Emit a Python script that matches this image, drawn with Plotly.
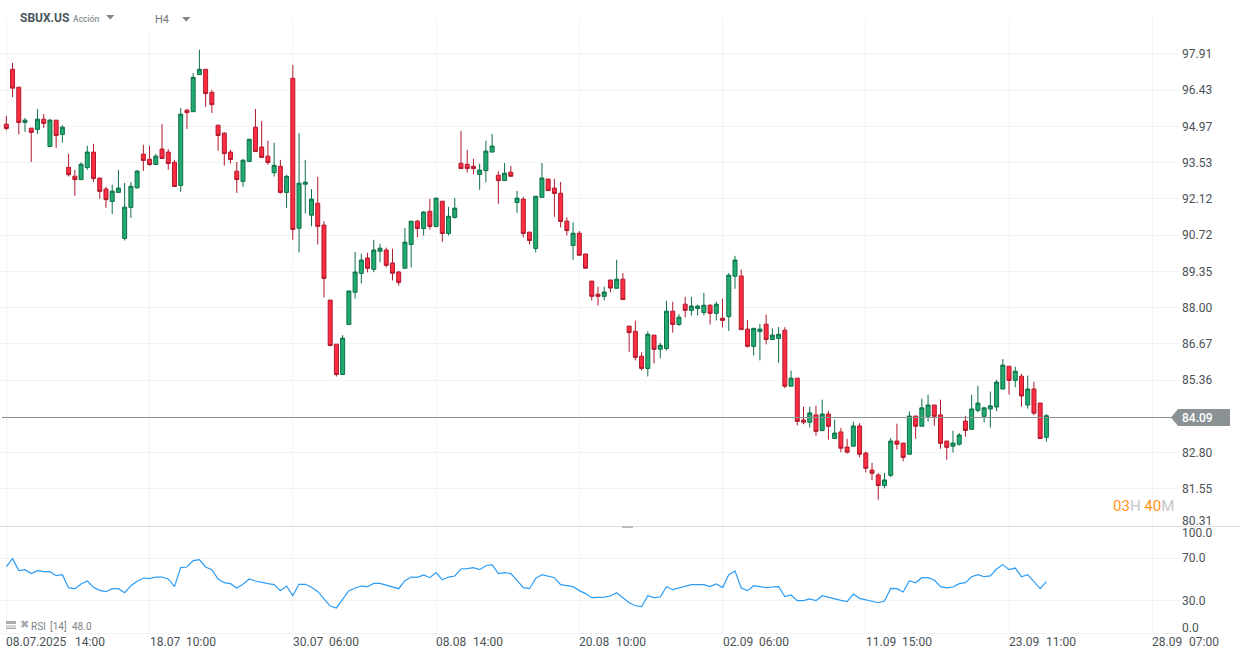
import math
import plotly.graph_objects as go

W, H = 1242, 659

opens = [95.06,97.28,96.55,95.13,94.90,94.85,95.26,94.17,95.22,94.65,
 93.35,93.00,92.87,93.34,93.95,92.93,92.50,92.02,92.37,90.60,
 91.79,92.55,93.87,93.67,93.46,94.07,93.95,93.55,92.64,95.62,
 95.56,97.06,97.28,96.34,95.02,94.70,93.95,93.20,92.80,93.58,
 94.94,94.15,93.79,93.14,93.39,92.37,96.91,90.99,92.69,91.49,
 91.95,91.11,88.28,86.66,85.56,87.38,88.57,89.28,89.86,89.43,
 90.11,90.16,89.67,89.33,89.47,90.37,91.26,90.98,91.64,91.06,
 92.03,90.79,91.40,93.51,93.47,93.39,93.07,93.22,93.95,93.04,
 92.83,93.16,91.98,92.11,90.84,90.22,92.18,92.89,92.54,92.34,
 91.26,90.33,90.80,90.01,88.99,88.50,88.42,89.03,88.72,89.06,
 87.32,87.13,86.22,85.78,86.99,86.47,86.50,87.87,87.38,88.13,
 87.90,87.97,87.82,88.09,87.79,87.61,87.67,89.17,89.18,87.21,
 86.58,87.12,87.39,86.83,86.87,87.17,85.14,85.43,83.94,83.86,
 84.12,83.57,84.15,83.29,83.52,82.99,83.02,83.73,82.78,82.19,
 82.02,81.66,82.01,83.20,83.13,82.74,84.08,83.72,84.07,84.47,
 84.12,83.20,83.02,83.09,83.90,83.61,84.28,84.07,84.33,84.40,
 85.04,85.86,85.35,85.50,84.47,85.04,84.54,83.33]

highs = [95.39,97.54,96.55,95.31,94.90,95.67,95.47,95.27,95.22,95.02,
 93.88,93.25,93.55,94.20,94.28,92.93,92.59,92.67,93.25,92.74,
 92.78,93.25,94.24,94.20,93.88,95.07,94.07,93.64,95.71,95.68,
 97.12,98.08,97.28,96.44,95.02,94.74,94.04,93.56,93.67,94.46,
 95.67,95.19,94.40,94.32,93.64,93.06,97.46,94.70,93.64,92.50,
 92.98,91.26,88.28,86.66,86.99,88.62,90.09,90.02,90.06,90.55,
 90.40,90.25,90.21,89.37,91.00,91.26,91.31,91.64,92.12,92.15,
 92.03,91.81,92.15,94.79,94.04,93.68,93.49,94.40,94.67,93.20,
 93.52,93.41,92.43,92.20,90.84,92.22,93.52,92.89,92.90,92.78,
 91.41,91.22,90.88,90.01,88.99,88.78,88.78,89.03,89.79,89.29,
 87.32,87.52,86.37,87.13,86.99,86.71,88.25,88.22,87.76,88.40,
 88.40,88.11,88.55,88.13,88.22,88.33,89.29,89.94,89.42,87.55,
 87.24,87.40,87.74,87.24,87.29,87.28,85.70,85.43,84.41,84.41,
 84.45,84.66,84.26,83.95,83.66,83.28,83.88,83.83,82.83,82.44,
 82.09,82.09,83.31,83.81,83.13,84.24,84.08,84.70,84.84,84.47,
 84.66,83.20,83.56,83.48,84.09,84.84,85.16,84.40,84.95,85.37,
 86.12,85.86,85.84,85.59,85.52,85.30,84.54,84.15]

lows = [94.81,96.15,94.65,94.75,93.56,94.67,94.91,94.17,94.12,94.32,
 92.99,92.24,92.87,93.25,92.78,92.12,91.77,91.54,92.37,90.52,
 91.39,92.51,93.21,93.41,93.46,93.70,93.26,92.60,92.39,94.87,
 95.56,97.06,95.75,95.51,94.00,93.42,93.50,92.35,92.59,93.58,
 93.97,93.74,93.45,92.99,92.32,91.77,90.55,90.07,91.56,91.06,
 90.37,88.38,86.58,85.49,85.56,87.38,88.34,88.90,89.32,89.32,
 89.69,89.50,89.01,88.82,89.47,89.50,90.64,90.71,90.94,91.02,
 90.47,90.71,91.36,93.30,93.14,93.07,92.47,92.76,93.95,91.93,
 92.83,93.00,91.58,90.64,90.37,90.07,92.18,92.44,91.43,91.02,
 90.71,89.79,89.96,89.47,88.27,88.08,88.27,88.57,88.72,88.30,
 86.38,86.07,85.71,85.49,85.96,86.14,86.43,87.08,87.33,87.64,
 87.71,87.71,87.71,87.38,87.53,87.27,87.14,88.70,87.19,86.54,
 86.25,86.07,86.65,86.83,85.98,85.07,85.14,83.75,83.79,83.68,
 83.39,83.54,83.25,83.29,82.81,82.76,83.02,82.63,82.11,81.84,
 81.17,81.56,81.94,82.90,82.49,82.74,83.28,83.72,83.88,83.74,
 82.93,82.55,82.80,83.04,83.35,83.61,84.21,83.85,83.67,84.25,
 85.04,84.84,85.10,84.41,84.34,84.11,83.29,83.18]

closes = [94.89,96.51,95.13,95.22,94.73,95.26,95.09,95.22,94.61,94.94,
 93.06,92.87,93.47,93.95,92.91,92.41,92.09,92.42,92.54,91.80,
 92.61,93.20,93.62,93.46,93.79,93.70,93.50,92.60,95.46,95.52,
 96.95,97.28,96.29,95.84,94.61,93.89,93.66,92.87,93.63,94.46,
 93.97,93.74,93.54,93.43,92.37,93.00,90.94,92.73,92.77,92.11,
 91.06,89.09,86.61,85.56,86.88,88.62,89.33,89.78,89.47,90.16,
 90.23,89.58,89.28,88.94,90.46,91.26,90.98,91.61,91.06,92.15,
 90.79,91.45,91.76,93.30,93.30,93.30,93.24,93.99,94.19,92.83,
 93.12,93.00,92.15,90.79,90.52,92.22,92.93,92.44,92.33,91.25,
 90.90,90.80,89.96,89.47,88.42,88.42,88.58,88.73,89.06,88.30,
 87.08,86.18,85.78,87.02,86.47,86.62,87.87,87.38,87.65,87.90,
 88.06,88.06,88.09,87.79,88.13,87.53,89.21,89.78,87.19,86.58,
 87.24,87.21,86.83,86.99,87.02,85.14,85.43,83.89,83.86,84.19,
 83.54,84.15,83.72,83.48,82.95,82.81,83.73,82.74,82.25,82.08,
 81.66,81.85,83.20,83.09,82.63,84.08,83.72,84.37,84.47,84.07,
 83.12,82.98,83.13,83.41,83.57,84.33,84.54,84.37,84.44,85.29,
 85.90,85.35,85.68,84.79,85.04,84.18,83.29,84.09]

rsi = [62.0,69.5,58.3,59.2,55.5,58.3,57.3,57.3,53.6,54.5,
 42.1,41.4,45.8,48.6,42.7,39.9,38.6,41.4,41.4,37.7,
 44.2,48.3,51.4,50.8,52.3,52.3,50.5,43.3,61.1,61.7,
 67.6,68.5,61.7,59.2,50.5,47.0,46.1,42.1,45.5,50.5,
 48.6,47.0,46.1,45.2,39.6,43.9,34.9,45.5,45.5,42.7,
 38.9,31.8,25.2,23.4,31.5,39.6,42.1,43.9,43.3,46.4,
 46.4,44.9,43.0,41.4,48.9,52.3,52.0,54.2,51.7,56.4,
 49.8,52.3,53.3,59.8,60.1,61.1,59.2,62.9,63.9,55.5,
 56.4,55.5,49.2,42.4,41.4,51.1,54.5,53.0,51.7,45.2,
 44.2,43.3,39.6,36.8,33.0,33.0,33.6,34.6,37.7,33.0,
 28.3,25.5,24.6,34.9,33.0,33.6,43.3,40.5,42.1,44.2,
 45.2,45.2,45.2,43.3,45.8,42.4,54.5,57.9,42.1,39.6,
 44.2,43.3,42.4,43.0,43.3,34.0,35.5,30.2,30.2,31.8,
 30.2,34.9,33.3,31.8,30.5,29.3,36.4,32.4,30.8,29.9,
 28.3,29.9,41.7,41.4,38.3,48.9,47.0,51.7,51.7,49.5,
 43.3,42.1,43.0,46.1,47.0,52.6,54.5,52.6,53.3,59.8,
 63.9,59.2,60.7,52.6,54.5,48.0,41.4,48.0]

bars = list(range(len(closes)))

price_ticks = [97.91,96.43,94.97,93.53,92.12,90.72,89.35,88.00,86.67,85.36,82.80,81.55,80.31]
price_labels = ["97.91","96.43","94.97","93.53","92.12","90.72","89.35","88.00","86.67","85.36","82.80","81.55","80.31"]
rsi_ticks = [100,70,30,0]
rsi_labels = ["100.0","70.0","30.0","0.0"]
date_ticks = [0,23,46,69,92,115,138,161,184]
date_labels = ["08.07.2025","18.07","30.07","08.08","20.08","02.09","11.09","23.09","28.09"]
time_labels = ["14:00","10:00","06:00","14:00","10:00","06:00","15:00","11:00","07:00"]

GRID = "#f2f3f4"
TEXT = "#4b5257"

def fx(p):
    return p / W

def fy(p):
    return 1 - p / H

# bar i sits at about 6.33 + 6.228 i px
x_range = [-6.33 / 6.228, (1180 - 6.33) / 6.228]

fig = go.Figure()

fig.add_trace(go.Candlestick(
    x=bars, open=opens, high=highs, low=lows, close=closes,
    xaxis="x", yaxis="y", whiskerwidth=0,
    increasing=dict(line=dict(color="#0d7048", width=1), fillcolor="#22aa6f"),
    decreasing=dict(line=dict(color="#b01a2e", width=1), fillcolor="#ff2d41"),
    showlegend=False,
))

fig.add_trace(go.Scatter(
    x=bars, y=rsi, xaxis="x2", yaxis="y2", mode="lines",
    line=dict(color="#2b9cf6", width=1.2), showlegend=False,
))

shapes = [
    # last price line and its tag
    dict(type="line", xref="paper", yref="paper", x0=fx(2), x1=fx(1172), y0=fy(417.5), y1=fy(417.5),
         line=dict(color="#8a9295", width=1), layer="above"),
    dict(type="path", xref="paper", yref="paper", fillcolor="#8a9295", line=dict(width=0),
         path=f"M{fx(1171)},{fy(417.5)} L{fx(1178)},{fy(409)} L{fx(1230)},{fy(409)} L{fx(1230)},{fy(426)} L{fx(1178)},{fy(426)} Z"),
    # pane separator and handle
    dict(type="line", xref="paper", yref="paper", x0=0, x1=fx(1240), y0=fy(526.5), y1=fy(526.5),
         line=dict(color="#dcdedf", width=1), layer="above"),
    dict(type="rect", xref="paper", yref="paper", x0=fx(622), x1=fx(633), y0=fy(526), y1=fy(528),
         fillcolor="#bdbdbd", line=dict(width=0), layer="above"),
    # white behind the interval selector
    dict(type="rect", xref="paper", yref="paper", x0=fx(140), x1=fx(205), y0=fy(18), y1=fy(32),
         fillcolor="white", line=dict(width=0), layer="above"),
    # dropdown arrows
    dict(type="path", xref="paper", yref="paper", fillcolor="#7f8589", line=dict(width=0), layer="above",
         path=f"M{fx(106)},{fy(15)} L{fx(114.5)},{fy(15)} L{fx(110.2)},{fy(19.5)} Z"),
    dict(type="path", xref="paper", yref="paper", fillcolor="#7f8589", line=dict(width=0), layer="above",
         path=f"M{fx(182)},{fy(17)} L{fx(190.5)},{fy(17)} L{fx(186.2)},{fy(21.5)} Z"),
    # RSI panel icon
    dict(type="rect", xref="paper", yref="paper", x0=fx(6), x1=fx(16), y0=fy(621), y1=fy(624),
         fillcolor="#a9adb0", line=dict(width=0), layer="above"),
    dict(type="rect", xref="paper", yref="paper", x0=fx(6), x1=fx(16), y0=fy(625.5), y1=fy(626.5),
         fillcolor="#a9adb0", line=dict(width=0), layer="above"),
    dict(type="rect", xref="paper", yref="paper", x0=fx(6), x1=fx(16), y0=fy(627.5), y1=fy(629),
         fillcolor="#a9adb0", line=dict(width=0), layer="above"),
]

annotations = []

def text(px, py, s, size=12, color=TEXT, anchor="left", weight=None, family="Roboto"):
    annotations.append(dict(
        xref="paper", yref="paper", x=fx(px), y=fy(py), text=s, showarrow=False,
        xanchor=anchor, yanchor="middle", align=anchor,
        font=dict(family=family, size=size, color=color, weight=weight),
        borderpad=0, borderwidth=0,
    ))

# bottom dates, left aligned on the grid lines
for tick, d, t in zip(date_ticks, date_labels, time_labels):
    gx = 6.33 + 6.228 * tick
    offset = 69 if d == date_labels[0] else 36.5
    text(gx, 641.5, d)
    text(gx + offset, 641.5, t)

text(1182, 417.5, "84.09", color="white", weight=500)
text(1182, 521, price_labels[-1])
text(1182, 533, rsi_labels[0])
text(1182, 628, rsi_labels[3])

text(20, 18.5, "SBUX.US", size=12, color="#47545c", weight=700)
text(73, 19, "Acción", size=8.5, color="#8c9296", weight=500)
text(155, 20, "H4", size=11, color="#71777b")
text(1174, 506, '<span style="color:#ff9415">03</span><span style="color:#c3c7c9">H</span> '
                '<span style="color:#ff9415">40</span><span style="color:#c3c7c9">M</span>',
     size=15, anchor="right")
text(20, 624.5, "✖", size=11, color="#a9adb0", family="DejaVu Sans")
text(31, 626, "RSI", size=10, color="#7d8386")
text(50, 626, "[14]", size=10, color="#7d8386")
text(72, 626, "48.0", size=10, color="#7d8386")

fig.update_layout(
    width=W, height=H, margin=dict(l=0, r=0, t=0, b=0),
    paper_bgcolor="white", plot_bgcolor="white", boxgap=0.36, boxgroupgap=0,
    shapes=shapes, annotations=annotations,
    xaxis=dict(domain=[0, 1180 / W], range=x_range, anchor="y", rangeslider=dict(visible=False),
               tickvals=date_ticks, showticklabels=False, ticks="", showgrid=True, gridcolor=GRID,
               gridwidth=1, zeroline=False, showline=False),
    xaxis2=dict(domain=[0, 1180 / W], range=x_range, anchor="y2", matches="x",
                tickvals=date_ticks, showticklabels=False, ticks="", showgrid=True, gridcolor=GRID,
                gridwidth=1, zeroline=False, showline=True, linecolor=GRID, linewidth=1),
    # price pane is logarithmic: equal pixel steps between the labelled levels
    yaxis=dict(domain=[fy(526), fy(18)], type="log", side="right", anchor="x",
               range=[math.log10(80.28), math.log10(99.40)],
               tickvals=price_ticks[:-1], ticktext=price_labels[:-1], ticklabelstandoff=1,
               tickfont=dict(family="Roboto", size=12, color=TEXT),
               showgrid=True, gridcolor=GRID, gridwidth=1, zeroline=False, showline=False, ticks=""),
    yaxis2=dict(domain=[fy(633), fy(526)], range=[0, 100], side="right", anchor="x2",
                tickvals=rsi_ticks[1:3], ticktext=rsi_labels[1:3], ticklabelstandoff=1,
                tickfont=dict(family="Roboto", size=12, color=TEXT),
                showgrid=True, gridcolor=GRID, gridwidth=1, zeroline=False, showline=False, ticks=""),
)

# the page's default body margin would push the chart 8 px in
fig.write_html("out.html", config={"displayModeBar": False},
               post_script="document.body.style.margin='0';document.body.style.overflow='hidden';")
